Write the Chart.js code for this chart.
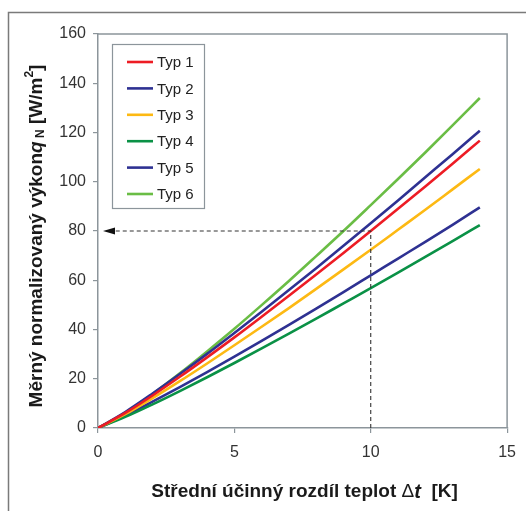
<!DOCTYPE html>
<html>
<head>
<meta charset="utf-8">
<script src="https://cdn.jsdelivr.net/npm/chart.js@4.4.1/dist/chart.umd.min.js"></script>
<style>
  html, body { margin: 0; padding: 0; background: #ffffff; }
  #wrap { width: 526px; height: 511px; position: relative; }
</style>
</head>
<body>
<div id="wrap"><canvas id="c" width="526" height="511"></canvas></div>
<script>
// ---- data ----
const deltaT = [0, 1, 2, 3, 4, 5, 6, 7, 8, 9, 10, 11, 12, 13, 14];
const typ1 = [0, 6.1, 13.2, 20.8, 28.7, 36.8, 45.2, 53.7, 62.3, 71.1, 80.0, 89.0, 98.1, 107.3, 116.7];
const typ2 = [0, 6.5, 14.0, 21.9, 30.1, 38.6, 47.2, 56.0, 64.9, 74.0, 83.1, 92.4, 101.8, 111.2, 120.7];
const typ3 = [0, 5.6, 12.1, 19.0, 26.2, 33.6, 41.1, 48.7, 56.5, 64.4, 72.4, 80.5, 88.6, 96.9, 105.2];
const typ4 = [0, 4.5, 9.6, 15.0, 20.6, 26.4, 32.3, 38.3, 44.4, 50.6, 56.8, 63.1, 69.5, 75.9, 82.4];
const typ5 = [0, 5.0, 10.7, 16.6, 22.7, 29.0, 35.4, 41.9, 48.5, 55.2, 62.0, 68.8, 75.6, 82.5, 89.6];
const typ6 = [0, 6.2, 13.8, 22.2, 31.1, 40.3, 49.9, 59.7, 69.8, 80.0, 90.5, 101.1, 111.9, 122.9, 134.0];
const seriesNames = ['Typ 1', 'Typ 2', 'Typ 3', 'Typ 4', 'Typ 5', 'Typ 6'];
const seriesColors = ['#ed1c24', '#2e3192', '#fdb913', '#0a9146', '#2e3192', '#6abd45'];
const xTickValues = [0, 5, 10, 15];
const yTickValues = [0, 20, 40, 60, 80, 100, 120, 140, 160];
const markerX = [10];   // read-off example: Δt = 10 K
const markerY = [80];   // → q = 80 W/m²

const FONT = "'Liberation Sans', Arial, sans-serif";
const AXIS_COLOR = '#8c959b';
const allSeries = [typ1, typ2, typ3, typ4, typ5, typ6];

const datasets = allSeries.map((s, i) => ({
  label: seriesNames[i],
  data: deltaT.map((x, j) => ({ x: x, y: s[j] })),
  borderColor: seriesColors[i],
  backgroundColor: seriesColors[i],
  borderWidth: 2.6,
  pointRadius: 0,
  fill: false,
  cubicInterpolationMode: 'monotone'
}));

function drawRich(ctx, parts, cx, cy) {
  let total = 0;
  parts.forEach(p => { ctx.font = p.font; p.w = ctx.measureText(p.t).width; total += p.w; });
  let x = cx - total / 2;
  ctx.textAlign = 'left';
  ctx.textBaseline = 'middle';
  parts.forEach(p => {
    ctx.font = p.font;
    ctx.fillText(p.t, x, cy + (p.dy || 0));
    x += p.w;
  });
}

const decorPlugin = {
  id: 'decor',
  beforeDraw(chart) {
    const ctx = chart.ctx;
    ctx.save();
    ctx.fillStyle = '#ffffff';
    ctx.fillRect(0, 0, chart.width, chart.height);
    // outer frame
    ctx.strokeStyle = '#7a7a7a';
    ctx.lineWidth = 1.5;
    ctx.beginPath();
    ctx.moveTo(8.5, chart.height);
    ctx.lineTo(8.5, 12.5);
    ctx.lineTo(chart.width, 12.5);
    ctx.stroke();
    ctx.restore();
  },
  afterDatasetsDraw(chart) {
    const ctx = chart.ctx;
    const xs = chart.scales.x, ys = chart.scales.y;
    const a = chart.chartArea;
    ctx.save();
    // dashed read-off lines
    const px = xs.getPixelForValue(markerX[0]);
    const py = ys.getPixelForValue(markerY[0]);
    ctx.strokeStyle = '#333333';
    ctx.lineWidth = 1.1;
    ctx.setLineDash([4, 3]);
    ctx.beginPath();
    ctx.moveTo(px, a.bottom);
    ctx.lineTo(px, py);
    ctx.lineTo(a.left + 16, py);
    ctx.stroke();
    ctx.setLineDash([]);
    // arrow head
    ctx.fillStyle = '#111111';
    ctx.beginPath();
    ctx.moveTo(a.left + 5, py);
    ctx.lineTo(a.left + 17, py - 3.5);
    ctx.lineTo(a.left + 17, py + 3.5);
    ctx.closePath();
    ctx.fill();
    ctx.restore();
  },
  afterDraw(chart) {
    const ctx = chart.ctx;
    const a = chart.chartArea;
    ctx.save();
    // top and right plot border
    ctx.strokeStyle = AXIS_COLOR;
    ctx.lineWidth = 1.5;
    ctx.beginPath();
    ctx.moveTo(a.left, a.top);
    ctx.lineTo(a.right, a.top);
    ctx.lineTo(a.right, a.bottom);
    ctx.stroke();

    // legend inside the plot
    const lx = a.left + 14, ly = a.top + 10, lw = 92, lh = 164;
    ctx.fillStyle = '#ffffff';
    ctx.fillRect(lx, ly, lw, lh);
    ctx.strokeStyle = AXIS_COLOR;
    ctx.lineWidth = 1.2;
    ctx.strokeRect(lx + 0.5, ly + 0.5, lw, lh);
    chart.data.datasets.forEach((ds, i) => {
      const yy = ly + 18 + i * 26.4;
      ctx.strokeStyle = ds.borderColor;
      ctx.lineWidth = 2.6;
      ctx.beginPath();
      ctx.moveTo(lx + 15, yy);
      ctx.lineTo(lx + 41, yy);
      ctx.stroke();
      ctx.fillStyle = '#222222';
      ctx.font = '15px ' + FONT;
      ctx.textAlign = 'left';
      ctx.textBaseline = 'middle';
      ctx.fillText(ds.label, lx + 45, yy + 1);
    });

    // axis titles (rich text)
    ctx.fillStyle = '#1a1a1a';
    const B = 'bold 19px ' + FONT, BI = 'italic bold 19px ' + FONT, S = 'bold 12px ' + FONT;
    drawRich(ctx, [
      { t: 'Střední účinný rozdíl teplot ', font: B },
      { t: 'Δ', font: '19px ' + FONT },
      { t: 't', font: 'italic bold 20px ' + FONT },
      { t: '  [K]', font: B }
    ], (a.left + a.right) / 2 + 2, 492);

    ctx.save();
    ctx.translate(37, 236);
    ctx.rotate(-Math.PI / 2);
    drawRich(ctx, [
      { t: 'Měrný normalizovaný výkon', font: B },
      { t: 'q', font: BI },
      { t: ' N', font: S, dy: 4 },
      { t: ' [W/m', font: B },
      { t: '2', font: S, dy: -7 },
      { t: ']', font: B }
    ], 0, 0);
    ctx.restore();
    ctx.restore();
  }
};

new Chart(document.getElementById('c'), {
  type: 'line',
  data: { datasets: datasets },
  plugins: [decorPlugin],
  options: {
    responsive: false,
    animation: false,
    devicePixelRatio: 1,
    layout: { padding: { top: 34, right: 16, left: 0, bottom: 0 } },
    plugins: { legend: { display: false }, tooltip: { enabled: false }, title: { display: false } },
    scales: {
      x: {
        type: 'linear',
        min: 0, max: 15,
        afterBuildTicks: s => { s.ticks = xTickValues.map(v => ({ value: v })); },
        afterFit: s => { s.height = 83; },
        grid: { drawOnChartArea: false, drawTicks: true, tickLength: 5, color: AXIS_COLOR, lineWidth: 1.2 },
        border: { display: true, color: AXIS_COLOR, width: 1.5 },
        ticks: { color: '#333333', font: { family: FONT, size: 16 }, padding: 10, maxRotation: 0 },
        title: { display: false }
      },
      y: {
        type: 'linear',
        min: 0, max: 160,
        afterBuildTicks: s => { s.ticks = yTickValues.map(v => ({ value: v })); },
        afterFit: s => { s.width = 98; },
        grid: { drawOnChartArea: false, drawTicks: true, tickLength: 5, color: AXIS_COLOR, lineWidth: 1.2 },
        border: { display: true, color: AXIS_COLOR, width: 1.5 },
        ticks: { color: '#333333', font: { family: FONT, size: 16 }, padding: 7 },
        title: { display: false }
      }
    }
  }
});
</script>
</body>
</html>
